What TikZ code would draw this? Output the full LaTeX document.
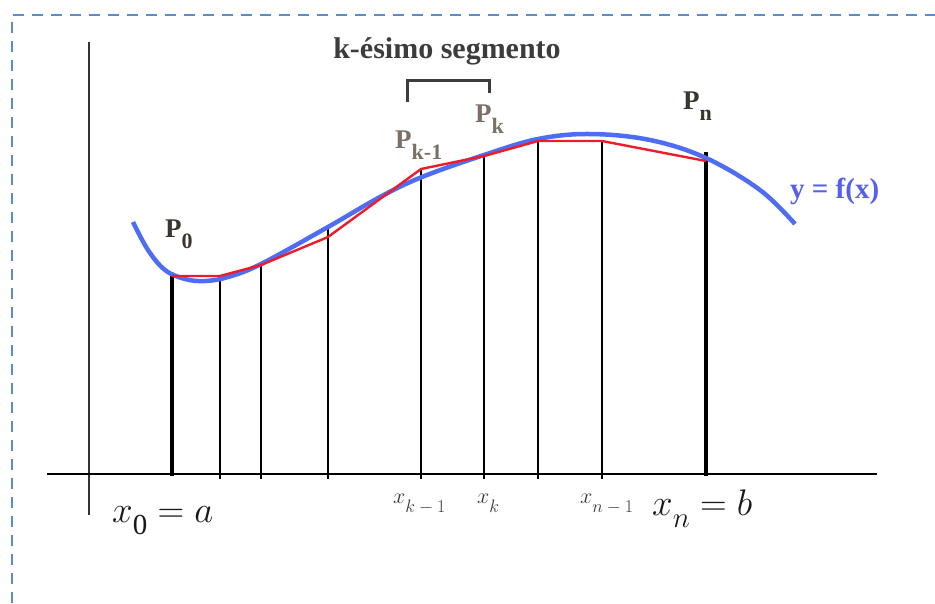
\RequirePackage{fix-cm}
\documentclass[tikz,border=0pt]{standalone}
\usepackage{fontspec}
\setmainfont{Liberation Serif}
\definecolor{framec}{HTML}{5B8BD0}
\definecolor{curvec}{HTML}{4F6DF2}
\definecolor{redc}{HTML}{EE1C2A}
\definecolor{fxc}{HTML}{5560EE}
\definecolor{segc}{HTML}{3C3C3C}
\definecolor{plight}{HTML}{7A7068}
\definecolor{pdark}{HTML}{3A3530}
\definecolor{xsmall}{HTML}{383838}
\newcommand{\Plab}[1]{P\raisebox{-11pt}{\fontsize{22}{24}\selectfont #1}}
% #1 size of subscript, #2 drop, #3 subscript (math)
\newcommand{\Xsub}[3]{$x$\raisebox{-#2}{\fontsize{#1}{#1}\selectfont$#3$}}
\begin{document}
\begin{tikzpicture}[x=1pt,y=-1pt,
  frame/.style={draw=framec,line width=2.5pt,dash pattern=on 11pt off 8pt},
  axisline/.style={draw=black,line width=1.8pt},
  yaxisline/.style={draw=black!80,line width=1.6pt},
  ord/.style={draw=black,line width=1.3pt},
  ordthick/.style={draw=black,line width=4pt},
  chord/.style={draw=redc,line width=2.4pt,line join=round},
  curve/.style={draw=curvec,line width=4.5pt},
  brack/.style={draw=segc,line width=3pt},
  plab/.style={inner sep=0pt,anchor=base west,font=\fontsize{27}{29}\selectfont\bfseries},
  xlab/.style={inner sep=0pt,anchor=base west,text=xsmall,font=\fontsize{22}{24}\selectfont},
  xbig/.style={inner sep=0pt,anchor=base west,text=black!90,font=\fontsize{37}{40}\selectfont}]
\useasboundingbox (0,0) rectangle (935,603);
% frame
\coordinate (fb) at (12,603);
\coordinate (fc) at (12,15);
\coordinate (fr) at (935,15);
\draw[frame] (fb) -- (fc) -- (fr);
% axes
\coordinate (xl) at (47,474);
\coordinate (xr) at (877,474);
\coordinate (yt) at (89,42);
\coordinate (yb) at (89,515);
\draw[yaxisline] (yb) -- (yt);
\draw[axisline] (xl) -- (xr);
% ordinates
\foreach \n/\x/\y in {1/220/279,2/261/263,3/328/226,4/421/170,5/484/155,6/538/140,7/602/140}{
  \coordinate (b\n) at (\x,479);
  \coordinate (t\n) at (\x,\y);
  \draw[ord] (b\n) -- (t\n);
}
\coordinate (b0) at (172,476);
\coordinate (t0) at (172,276);
\coordinate (bn) at (706,476);
\coordinate (tn) at (706,152);
\draw[ordthick] (b0) -- (t0);
\draw[ordthick] (bn) -- (tn);
% curve
\draw[curve] plot[smooth,tension=0.6] coordinates {(133,222) (148,250) (165,270) (185,279) (205,281) (228,277) (261,264) (328,227) (380,197) (422,177) (484,155) (538,139) (590,134) (650,140) (706,158) (760,190) (795,224)};
% chords
\coordinate (P0) at (172,276);
\coordinate (P1) at (220,276);
\coordinate (P2) at (261,265);
\coordinate (P3) at (328,237);
\coordinate (P4) at (421,169);
\coordinate (P5) at (484,156);
\coordinate (P6) at (538,141);
\coordinate (P7) at (602,141);
\coordinate (P8) at (706,161);
\draw[chord] (P0) -- (P1) -- (P2) -- (P3) -- (P4) -- (P5) -- (P6) -- (P7) -- (P8);
% bracket
\coordinate (br1) at (407,102);
\coordinate (br2) at (407,80);
\coordinate (br3) at (489,80);
\coordinate (br4) at (489,93);
\draw[brack] (br1) -- (br2) -- (br3) -- (br4);
% labels
\node[inner sep=0pt,anchor=base,text=segc,font=\fontsize{30}{32}\selectfont\bfseries] (seg) at (447,58) {k-ésimo segmento};
\node[plab,text=pdark] (lP0) at (165,237) {\Plab{0}};
\node[plab,text=plight] (lPk1) at (395,148) {\Plab{k-1}};
\node[plab,text=plight] (lPk) at (475,122) {\Plab{k}};
\node[plab,text=pdark] (lPn) at (683,109) {\Plab{n}};
\node[inner sep=0pt,anchor=base west,text=fxc,font=\fontsize{29}{31}\selectfont\bfseries] (fx) at (790,198) {y = f(x)};
\node[xlab] (xk1) at (393,503) {\Xsub{18}{9pt}{k-1}};
\node[xlab] (xk) at (477,503) {\Xsub{18}{9pt}{k}};
\node[xlab] (xn1) at (580,503) {\Xsub{18}{9pt}{n-1}};
\node[xbig] (x0) at (112,522) {\Xsub{29}{12pt}{\mathrm{0}}${}=a$};
\node[xbig] (xn) at (652,515) {\Xsub{29}{12pt}{n}${}=b$};
\end{tikzpicture}
\end{document}
